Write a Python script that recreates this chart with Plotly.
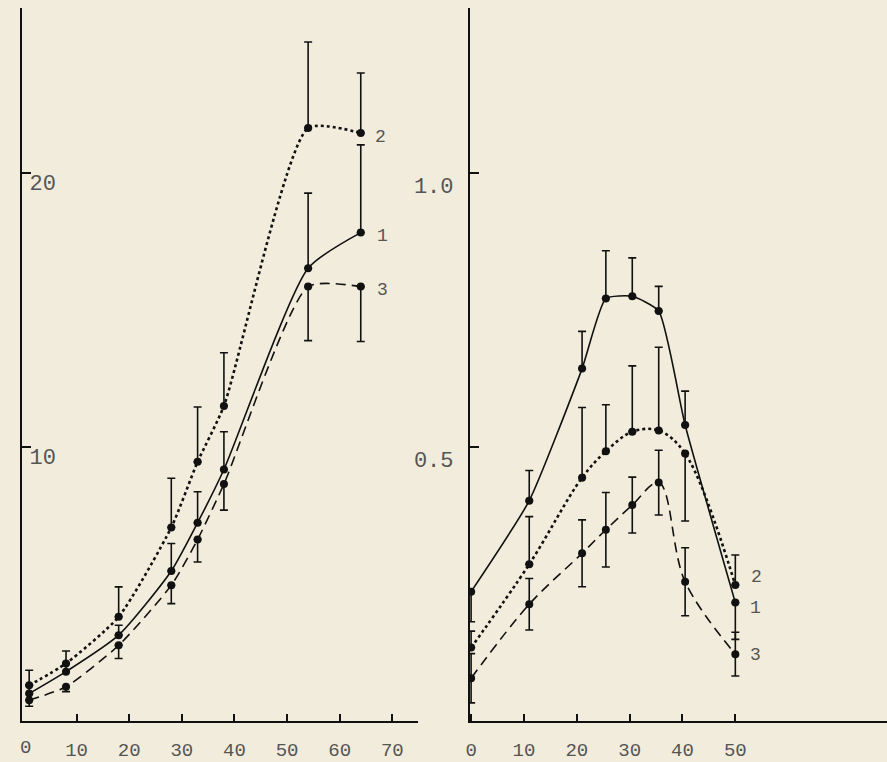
import plotly.graph_objects as go

# ---------------- data ----------------
# Left panel (temperature, left scale 0..26)
left_x = [1, 8, 18, 28, 33, 38, 54, 64]
left_c1 = [1.00, 1.80, 3.13, 5.47, 7.23, 9.17, 16.51, 17.81]      # solid, curve 1
left_c1_err = [0.30, 0.30, 0.36, 1.00, 1.13, 1.38, 2.74, 3.20]
left_c2 = [1.30, 2.10, 3.80, 7.06, 9.45, 11.49, 21.62, 21.44]     # dotted, curve 2
left_c2_err = [0.55, 0.45, 1.09, 1.79, 2.00, 1.94, 3.14, 2.19]
left_c3 = [0.76, 1.25, 2.76, 4.95, 6.62, 8.64, 15.84, 15.84]      # dashed, curve 3
left_c3_err = [0.22, 0.18, 0.48, 0.67, 0.82, 0.95, 1.97, 2.00]

# Right panel (temperature, right scale 0..1.3)
right_x = [0, 11, 21, 25.5, 30.5, 35.5, 40.5, 50]
right_c1 = [0.236, 0.402, 0.643, 0.771, 0.775, 0.748, 0.540, 0.216]   # solid
right_c1_up = [0.000, 0.055, 0.068, 0.087, 0.070, 0.045, 0.062, 0.000]
right_c1_dn = [0.055, 0.000, 0.000, 0.000, 0.000, 0.000, 0.000, 0.067]
right_c2 = [0.134, 0.286, 0.444, 0.492, 0.528, 0.530, 0.488, 0.248]   # dotted
right_c2_up = [0.030, 0.087, 0.128, 0.085, 0.120, 0.152, 0.000, 0.055]
right_c2_dn = [0.000, 0.000, 0.000, 0.000, 0.000, 0.000, 0.123, 0.000]
right_c3 = [0.078, 0.213, 0.306, 0.349, 0.394, 0.435, 0.254, 0.122]   # dashed
right_c3_err = [0.045, 0.047, 0.061, 0.068, 0.051, 0.059, 0.062, 0.040]

left_xticks = [0, 10, 20, 30, 40, 50, 60, 70]
left_xticktext = ["0", "10", "20", "30", "40", "50", "60", "70"]
left_yticks = [10, 20]
left_yticktext = ["10", "20"]
right_xticks = [0, 10, 20, 30, 40, 50]
right_xticktext = ["0", "10", "20", "30", "40", "50"]
right_yticks = [0.5, 1.0]
right_yticktext = ["0.5", "1.0"]

curve_labels = ["1", "2", "3"]
left_label_pos = [(68.1, 17.69), (67.7, 21.3), (68.1, 15.72)]
right_label_pos = [(53.8, 0.206), (54.1, 0.262), (53.8, 0.120)]

# ---------------- styling ----------------
INK = "#111111"
TXT = "#555555"
BG = "#f1ecdb"
FONT = "Liberation Mono"
W, H = 887, 762

fig = go.Figure()


def add_curve(x, y, xa, ya, dash, width, up, dn, smooth):
    fig.add_trace(go.Scatter(
        x=x, y=y, xaxis=xa, yaxis=ya, mode="lines+markers",
        line=dict(color=INK, width=width, dash=dash, shape="spline", smoothing=smooth),
        marker=dict(color=INK, size=8),
        error_y=dict(type="data", symmetric=False, array=up, arrayminus=dn,
                     color=INK, thickness=1.6, width=4),
        showlegend=False, hoverinfo="skip",
    ))


zeros = [0] * 8
add_curve(left_x, left_c1, "x", "y", "solid", 1.6, left_c1_err, zeros, 0.6)
add_curve(left_x, left_c2, "x", "y", "dot", 2.6, left_c2_err, zeros, 0.6)
add_curve(left_x, left_c3, "x", "y", "10px,6px", 1.6, zeros, left_c3_err, 0.6)

add_curve(right_x, right_c1, "x2", "y2", "solid", 1.6, right_c1_up, right_c1_dn, 0.5)
add_curve(right_x, right_c2, "x2", "y2", "dot", 2.6, right_c2_up, right_c2_dn, 1.0)
add_curve(right_x, right_c3, "x2", "y2", "10px,6px", 1.6, right_c3_err, right_c3_err, 1.0)

ann = []
for lab, (px, py) in zip(curve_labels, left_label_pos):
    ann.append(dict(x=px, y=py, xref="x", yref="y", text=lab, showarrow=False,
                    font=dict(family=FONT, size=18, color=TXT)))
for lab, (px, py) in zip(curve_labels, right_label_pos):
    ann.append(dict(x=px, y=py, xref="x2", yref="y2", text=lab, showarrow=False,
                    font=dict(family=FONT, size=18, color=TXT)))
# the "0" at the left panel's origin (plotly hides it next to the inside y labels)
ann.append(dict(x=left_xticks[0], y=0, xref="x", yref="y", text=left_xticktext[0],
                showarrow=False, yshift=-27, xshift=2,
                font=dict(family=FONT, size=19, color=TXT)))

axis_common = dict(showgrid=False, zeroline=False, showline=True, linecolor=INK,
                   linewidth=2, ticks="inside", tickcolor=INK, tickwidth=2,
                   mirror=False, fixedrange=True)

fig.update_layout(
    width=W, height=H,
    margin=dict(l=0, r=0, t=8, b=41),
    paper_bgcolor=BG, plot_bgcolor="rgba(0,0,0,0)",
    showlegend=False,
    annotations=ann,
    xaxis=dict(domain=[18 / W, 416 / W], range=[-0.38, 74.9],
               tickvals=left_xticks, ticktext=left_xticktext, ticklen=7,
               tickfont=dict(family=FONT, size=19, color=TXT),
               ticklabelstandoff=10, anchor="y", **axis_common),
    yaxis=dict(domain=[0, 1], range=[0, 26.0],
               tickvals=left_yticks, ticktext=left_yticktext, ticklen=9,
               ticklabelposition="inside", ticklabelshift=10,
               tickfont=dict(family=FONT, size=22, color=TXT),
               anchor="x", **axis_common),
    xaxis2=dict(domain=[468 / W, 1.0], range=[-0.23, 78.7],
                tickvals=right_xticks, ticktext=right_xticktext, ticklen=7,
                tickfont=dict(family=FONT, size=19, color=TXT),
                ticklabelstandoff=10, anchor="y2", **axis_common),
    yaxis2=dict(domain=[0, 1], range=[0, 1.301],
                tickvals=right_yticks, ticktext=right_yticktext, ticklen=9,
                ticklabelshift=12, ticklabelstandoff=10,
                tickfont=dict(family=FONT, size=22, color=TXT),
                anchor="x2", **axis_common),
)

fig.write_html(
    "out.html",
    config={"displayModeBar": False, "staticPlot": True},
    post_script="document.body.style.margin='0px';"
                "document.body.style.background='%s';" % BG,
)
